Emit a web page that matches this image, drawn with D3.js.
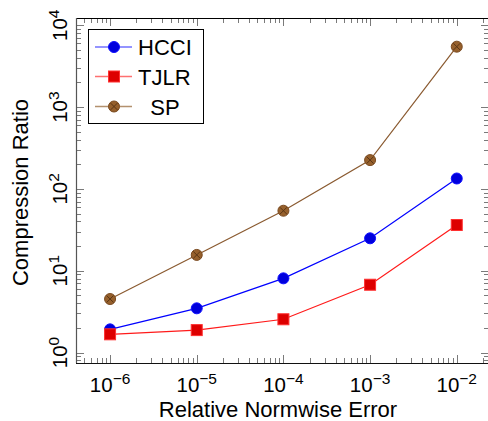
<!DOCTYPE html>
<html>
<head>
<meta charset="utf-8">
<script src="https://cdn.jsdelivr.net/npm/d3@7"></script>
<style>
  body { margin: 0; background: #fff; }
  svg text { font-family: "Liberation Sans", Arial, Helvetica, sans-serif; fill: #000; }
</style>
</head>
<body>
<svg id="chart" width="488" height="421"></svg>
<script>
// Compression ratio reached by each method at a given relative normwise error
const errorLevels = [1e-6, 1e-5, 1e-4, 1e-3, 1e-2];
const hcciRatio = [1.92, 3.47, 8.07, 24.9, 134];
const tjlrRatio = [1.67, 1.88, 2.55, 6.74, 36.2];
const spRatio = [4.51, 15.6, 54.1, 225, 5475];
const seriesNames = ["HCCI", "TJLR", "  SP"];
const xTickExponents = [-6, -5, -4, -3, -2];
const yTickExponents = [0, 1, 2, 3, 4];
const xTitle = "Relative Normwise Error";
const yTitle = "Compression Ratio";

const svg = d3.select("#chart");
const plot = { left: 76, right: 489, top: 18, bottom: 363 };

const x = d3.scaleLog().domain([Math.pow(10, -6.393), Math.pow(10, -1.628)]).range([plot.left, plot.right]);
const y = d3.scaleLog().domain([Math.pow(10, -0.128), Math.pow(10, 4.089)]).range([plot.bottom, plot.top]);

const series = [
  { name: seriesNames[0], values: hcciRatio, line: "#0000ff", legendLine: "#7070ff", marker: "circle", fill: "#0000dd", stroke: "#1010ff" },
  { name: seriesNames[1], values: tjlrRatio, line: "#ff1a1a", legendLine: "#ff7070", marker: "square", fill: "#dd0000", stroke: "#ff3030" },
  { name: seriesNames[2], values: spRatio, line: "#8a5a30", legendLine: "#b3916e", marker: "xcircle", fill: "#96602c", stroke: "#7a4a20" }
];

// log-scale tick positions (1..9 per decade), kept inside the domain
function logTicks(scale) {
  const [d0, d1] = scale.domain();
  const out = [];
  for (let e = Math.floor(Math.log10(d0)); e <= Math.ceil(Math.log10(d1)); e++) {
    for (let k = 1; k <= 9; k++) {
      const v = k * Math.pow(10, e);
      if (v >= d0 * 0.9999 && v <= d1 * 1.0001) out.push({ v, major: k === 1 });
    }
  }
  return out;
}

const tickColor = "#7a7a7a";
const majorLen = 8, minorLen = 5;
const ticks = svg.append("g").attr("stroke", tickColor).attr("stroke-width", 1);

logTicks(x).forEach(t => {
  const px = Math.round(x(t.v)) + 0.5;
  const len = t.major ? majorLen : minorLen;
  ticks.append("line").attr("x1", px).attr("x2", px).attr("y1", plot.bottom).attr("y2", plot.bottom - len);
  ticks.append("line").attr("x1", px).attr("x2", px).attr("y1", plot.top).attr("y2", plot.top + len);
});
logTicks(y).forEach(t => {
  const py = Math.round(y(t.v)) + 0.5;
  const len = t.major ? majorLen : minorLen;
  ticks.append("line").attr("y1", py).attr("y2", py).attr("x1", plot.left).attr("x2", plot.left + len);
  ticks.append("line").attr("y1", py).attr("y2", py).attr("x1", plot.right).attr("x2", plot.right - len);
});

// frame
svg.append("line").attr("x1", plot.left).attr("x2", plot.right).attr("y1", plot.top + 0.5).attr("y2", plot.top + 0.5)
  .attr("stroke", "#000").attr("stroke-width", 1.2);
svg.append("line").attr("x1", plot.left).attr("x2", plot.right).attr("y1", plot.bottom + 0.5).attr("y2", plot.bottom + 0.5)
  .attr("stroke", "#111").attr("stroke-width", 1.2);
svg.append("line").attr("x1", plot.left + 0.5).attr("x2", plot.left + 0.5).attr("y1", plot.top).attr("y2", plot.bottom)
  .attr("stroke", "#555").attr("stroke-width", 1.2);

// x tick labels: 10^k
xTickExponents.forEach(e => {
  const t = svg.append("text").attr("x", x(Math.pow(10, e))).attr("y", 391.5)
    .attr("text-anchor", "middle").attr("font-size", 20.5);
  t.append("tspan").text("10");
  t.append("tspan").attr("font-size", 15.5).attr("dy", -7.5).text(e < 0 ? "\u2212" + (-e) : String(e));
});

// y tick labels, rotated
yTickExponents.forEach(e => {
  const py = y(Math.pow(10, e));
  const t = svg.append("text").attr("transform", `translate(66.5,${py}) rotate(-90)`)
    .attr("text-anchor", "middle").attr("font-size", 20.5);
  t.append("tspan").text("10");
  t.append("tspan").attr("font-size", 15.5).attr("dy", -7.5).text(String(e));
});

// axis titles
svg.append("text").attr("x", 278).attr("y", 416.5).attr("text-anchor", "middle").attr("font-size", 22).text(xTitle);
svg.append("text").attr("transform", `translate(28,${(plot.top + plot.bottom) / 2 + 2}) rotate(-90)`)
  .attr("text-anchor", "middle").attr("font-size", 22).text(yTitle);

// markers
function drawMarker(g, s, cx, cy, r) {
  if (s.marker === "circle") {
    g.append("circle").attr("cx", cx).attr("cy", cy).attr("r", r).attr("fill", s.fill).attr("stroke", s.stroke).attr("stroke-width", 1);
  } else if (s.marker === "square") {
    g.append("rect").attr("x", cx - r).attr("y", cy - r).attr("width", 2 * r).attr("height", 2 * r)
      .attr("fill", s.fill).attr("stroke", s.stroke).attr("stroke-width", 1);
  } else {
    g.append("circle").attr("cx", cx).attr("cy", cy).attr("r", r).attr("fill", s.fill).attr("stroke", s.stroke).attr("stroke-width", 1);
    const d = r * 0.62;
    g.append("path").attr("d", `M${cx - d},${cy - d}L${cx + d},${cy + d}M${cx - d},${cy + d}L${cx + d},${cy - d}`)
      .attr("stroke", "#5a3514").attr("stroke-width", 1).attr("fill", "none");
  }
}

const lineGen = d3.line().x(d => x(d[0])).y(d => y(d[1]));
series.forEach(s => {
  const pts = errorLevels.map((e, i) => [e, s.values[i]]);
  const g = svg.append("g");
  g.append("path").attr("d", lineGen(pts)).attr("fill", "none").attr("stroke", s.line).attr("stroke-width", 1.2);
  pts.forEach(p => drawMarker(g, s, x(p[0]), y(p[1]), 5.5));
});

// legend
const legend = svg.append("g");
legend.append("rect").attr("x", 88.5).attr("y", 29.5).attr("width", 115).attr("height", 94)
  .attr("fill", "#fff").attr("stroke", "#000").attr("stroke-width", 1);
const rowY = [47, 76.5, 106.5];
series.forEach((s, i) => {
  const cy = rowY[i];
  legend.append("line").attr("x1", 95).attr("x2", 132).attr("y1", cy).attr("y2", cy)
    .attr("stroke", s.legendLine).attr("stroke-width", 1.5);
  drawMarker(legend, s, 114, cy, 5.5);
  legend.append("text").attr("x", 138).attr("y", cy + 8).attr("font-size", 22)
    .style("white-space", "pre").text(s.name);
});
</script>
</body>
</html>
